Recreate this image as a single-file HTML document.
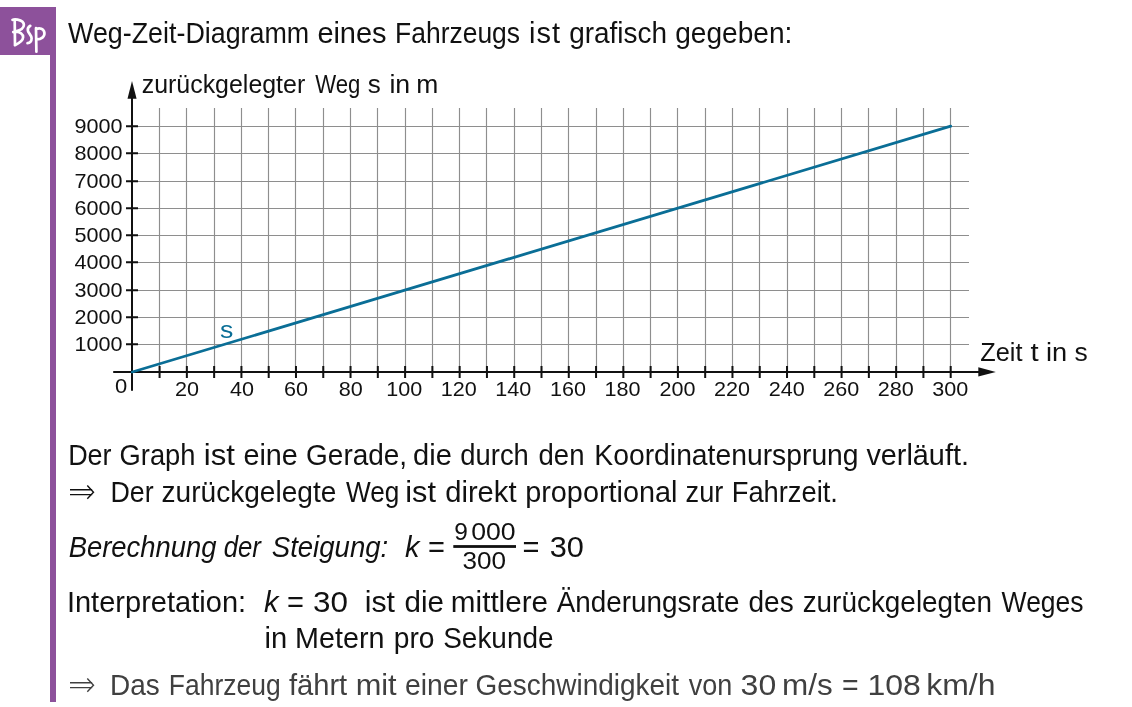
<!DOCTYPE html>
<html><head><meta charset="utf-8"><style>
html,body{margin:0;padding:0;background:#fff;}
body{width:1132px;height:707px;overflow:hidden;position:relative;}
svg{position:absolute;left:0;top:0;will-change:transform;}
text{font-family:"Liberation Sans",sans-serif;fill:#111;font-variant-ligatures:none;}
</style></head><body>
<svg width="1132" height="707" viewBox="0 0 1132 707">
<rect x="0" y="7" width="56" height="48" fill="#8d519b"/>
<rect x="50" y="55" width="6" height="647" fill="#8d519b"/>
<g fill="none" stroke="#fff" stroke-width="2.7" stroke-linecap="round" stroke-linejoin="round">
<path d="M12.5 19.9C13.6 19.3 15.6 19.2 17.5 19.6C21 20.3 24 22 23.9 25C23.8 28 20 30.3 16.2 31.4M14.7 20.1L15 45.2M13.2 32.1L16.2 31.5M16.2 31.6C19.8 32 23.2 34 23.1 37.3C23 40.6 19 43.3 14.9 45.2"/>
<path d="M30.3 25.8C28.6 26.7 27.4 28.3 27.9 30.7C28.5 33.4 31.5 35 31.6 38.3C31.7 41.2 29.8 43 27.5 43.1"/>
<path d="M36 28.2L36.4 51.7M36.2 29.1C39.5 27.6 43.8 28.5 44.4 32.8C44.9 36.8 41.2 39.4 36.7 39.4"/>
</g>
<text transform="translate(68.1 42.9) scale(0.9255 1)" style="font-size:29px;">Weg-Zeit-Diagramm</text><text x="317.4" y="42.9" style="font-size:29px;letter-spacing:-0.05px;">eines</text><text transform="translate(395.07 42.9) scale(0.9127 1)" style="font-size:29px;">Fahrzeugs</text><text x="528.9" y="42.9" style="font-size:29px;letter-spacing:1.1px;">ist</text><text transform="translate(569.14 42.9) scale(0.9636 1)" style="font-size:29px;">grafisch</text><text transform="translate(675.13 42.9) scale(0.9692 1)" style="font-size:29px;">gegeben:</text>
<path d="M159.5 108V372.0 M186.5 108V372.0 M214.5 108V372.0 M241.5 108V372.0 M268.5 108V372.0 M295.5 108V372.0 M323.5 108V372.0 M350.5 108V372.0 M377.5 108V372.0 M405.5 108V372.0 M432.5 108V372.0 M459.5 108V372.0 M486.5 108V372.0 M514.5 108V372.0 M541.5 108V372.0 M568.5 108V372.0 M596.5 108V372.0 M623.5 108V372.0 M650.5 108V372.0 M677.5 108V372.0 M705.5 108V372.0 M732.5 108V372.0 M759.5 108V372.0 M787.5 108V372.0 M814.5 108V372.0 M841.5 108V372.0 M868.5 108V372.0 M896.5 108V372.0 M923.5 108V372.0 M950.5 108V372.0 M132.3 344.5H969 M132.3 317.5H969 M132.3 290.5H969 M132.3 262.5H969 M132.3 235.5H969 M132.3 208.5H969 M132.3 181.5H969 M132.3 153.5H969 M132.3 126.5H969" stroke="#8e8e8e" stroke-width="1.15" fill="none"/>
<path d="M159.58 366V378 M186.86 366V378 M214.14 366V378 M241.42 366V378 M268.70 366V378 M295.98 366V378 M323.26 366V378 M350.54 366V378 M377.82 366V378 M405.10 366V378 M432.38 366V378 M459.66 366V378 M486.94 366V378 M514.22 366V378 M541.50 366V378 M568.78 366V378 M596.06 366V378 M623.34 366V378 M650.62 366V378 M677.90 366V378 M705.18 366V378 M732.46 366V378 M759.74 366V378 M787.02 366V378 M814.30 366V378 M841.58 366V378 M868.86 366V378 M896.14 366V378 M923.42 366V378 M950.70 366V378 M126 344.30H138 M126 317.30H138 M126 290.30H138 M126 262.30H138 M126 235.30H138 M126 208.30H138 M126 181.30H138 M126 153.30H138 M126 126.30H138" stroke="#111" stroke-width="2" fill="none"/>
<path d="M113.2 372H980M132 390.8V97" stroke="#111" stroke-width="2" fill="none"/>
<path d="M978.3 367.2L995.8 372L978.3 376.6Z" fill="#111"/>
<path d="M127.5 98.7L132 81L136.6 98.7Z" fill="#111"/>
<line x1="132.3" y1="372.0" x2="950.70" y2="126.21" stroke="#0a6e96" stroke-width="2.8" stroke-linecap="round"/>
<text transform="translate(220.09 337.6) scale(1.11 1)" style="font-size:24px;fill:#0a6e96;">s</text>
<text transform="translate(141.71 92.8) scale(0.9855 1)" style="font-size:25.3px;">zurückgelegter</text><text transform="translate(315.2 92.8) scale(0.876 1)" style="font-size:25.3px;">Weg</text><text transform="translate(367.87 92.8) scale(1.0273 1)" style="font-size:25.3px;">s</text><text transform="translate(389.39 92.8) scale(1.0562 1)" style="font-size:25.3px;">in</text><text transform="translate(416.21 92.8) scale(1.0471 1)" style="font-size:25.3px;">m</text>
<text x="980.3" y="360.5" style="font-size:25.3px;">Zeit</text><text transform="translate(1030.6 360.5) scale(1.1571 1)" style="font-size:25.3px;">t</text><text transform="translate(1045.95 360.5) scale(1.075 1)" style="font-size:25.3px;">in</text><text transform="translate(1074.55 360.5) scale(1.0455 1)" style="font-size:25.3px;">s</text>
<g style="font-size:20px"><text transform="translate(74.38 351.00) scale(1.08 1)">1000</text><text transform="translate(74.38 324.00) scale(1.08 1)">2000</text><text transform="translate(74.38 297.00) scale(1.08 1)">3000</text><text transform="translate(74.38 269.00) scale(1.08 1)">4000</text><text transform="translate(74.38 242.00) scale(1.08 1)">5000</text><text transform="translate(74.38 215.00) scale(1.08 1)">6000</text><text transform="translate(74.38 188.00) scale(1.08 1)">7000</text><text transform="translate(74.38 160.00) scale(1.08 1)">8000</text><text transform="translate(74.38 133.00) scale(1.08 1)">9000</text><text transform="translate(174.98 396.10) scale(1.08 1)">20</text><text transform="translate(230.08 396.10) scale(1.08 1)">40</text><text transform="translate(284.10 396.10) scale(1.08 1)">60</text><text transform="translate(338.66 396.10) scale(1.08 1)">80</text><text transform="translate(386.20 396.10) scale(1.08 1)">100</text><text transform="translate(440.76 396.10) scale(1.08 1)">120</text><text transform="translate(495.32 396.10) scale(1.08 1)">140</text><text transform="translate(549.88 396.10) scale(1.08 1)">160</text><text transform="translate(604.44 396.10) scale(1.08 1)">180</text><text transform="translate(659.54 396.10) scale(1.08 1)">200</text><text transform="translate(714.10 396.10) scale(1.08 1)">220</text><text transform="translate(768.66 396.10) scale(1.08 1)">240</text><text transform="translate(823.22 396.10) scale(1.08 1)">260</text><text transform="translate(877.78 396.10) scale(1.08 1)">280</text><text transform="translate(932.34 396.10) scale(1.08 1)">300</text></g>
<text transform="translate(114.9 392.8) scale(1.1 1)" style="font-size:20px;">0</text>
<text transform="translate(68.14 464.7) scale(0.9295 1)" style="font-size:29px;">Der</text><text transform="translate(119.62 464.7) scale(0.9416 1)" style="font-size:29px;">Graph</text><text transform="translate(203.75 464.7) scale(1.0741 1)" style="font-size:29px;">ist</text><text transform="translate(243.41 464.7) scale(0.9925 1)" style="font-size:29px;">eine</text><text transform="translate(306.07 464.7) scale(0.965 1)" style="font-size:29px;">Gerade,</text><text transform="translate(413.0 464.7) scale(1.0028 1)" style="font-size:29px;">die</text><text transform="translate(460.36 464.7) scale(0.9443 1)" style="font-size:29px;">durch</text><text transform="translate(538.55 464.7) scale(0.95 1)" style="font-size:29px;">den</text><text transform="translate(594.35 464.7) scale(0.976 1)" style="font-size:29px;">Koordinatenursprung</text><text transform="translate(866.4 464.7) scale(0.994 1)" style="font-size:29px;">verläuft.</text>
<path d="M70 489.75H92.2M70 494.65H92.2M87.3 485.60L93.5 492.20L87.3 498.80" fill="none" stroke="#111" stroke-width="1.4" stroke-linejoin="miter"/>
<text transform="translate(110.45 501.6) scale(0.925 1)" style="font-size:29px;">Der</text><text transform="translate(161.53 501.6) scale(0.9685 1)" style="font-size:29px;">zurückgelegte</text><text transform="translate(345.9 501.6) scale(0.9035 1)" style="font-size:29px;">Weg</text><text transform="translate(405.28 501.6) scale(1.0593 1)" style="font-size:29px;">ist</text><text transform="translate(445.19 501.6) scale(1.0057 1)" style="font-size:29px;">direkt</text><text transform="translate(525.21 501.6) scale(0.994 1)" style="font-size:29px;">proportional</text><text transform="translate(685.56 501.6) scale(0.9359 1)" style="font-size:29px;">zur</text><text transform="translate(731.72 501.6) scale(0.9417 1)" style="font-size:29px;">Fahrzeit.</text>
<text transform="translate(68.65 556.8) scale(0.9458 1)" style="font-size:29px;font-style:italic;">Berechnung</text><text transform="translate(223.71 556.8) scale(0.8881 1)" style="font-size:29px;font-style:italic;">der</text><text transform="translate(271.75 556.8) scale(0.9508 1)" style="font-size:29px;font-style:italic;">Steigung:</text>
<text x="405.0" y="556.8" style="font-size:29px;font-style:italic;">k</text>
<text x="427.9" y="556.8" style="font-size:29px;">=</text>
<text transform="translate(454.24 540.4) scale(1.0636 1)" style="font-size:23px;">9</text><text transform="translate(471.14 540.4) scale(1.1583 1)" style="font-size:23px;">000</text>
<rect x="453.3" y="545.1" width="62.7" height="2.8" fill="#111"/>
<text transform="translate(462.46 569.1) scale(1.1361 1)" style="font-size:23px;">300</text>
<text x="522.6" y="556.8" style="font-size:29px;">=</text>
<text transform="translate(549.74 556.8) scale(1.06 1)" style="font-size:29px;">30</text>
<text x="66.9" y="611.7" style="font-size:29px;letter-spacing:0.021px;">Interpretation:</text>
<text x="264.1" y="611.7" style="font-size:29px;font-style:italic;">k</text>
<text x="286.9" y="611.7" style="font-size:29px;">=</text>
<text transform="translate(313.12 611.7) scale(1.0833 1)" style="font-size:29px;">30</text>
<text transform="translate(364.71 611.7) scale(1.0444 1)" style="font-size:29px;">ist</text><text transform="translate(404.58 611.7) scale(1.0194 1)" style="font-size:29px;">die</text><text transform="translate(450.85 611.7) scale(1.0228 1)" style="font-size:29px;">mittlere</text><text transform="translate(556.8 611.7) scale(0.9603 1)" style="font-size:29px;">Änderungsrate</text><text transform="translate(748.53 611.7) scale(0.9667 1)" style="font-size:29px;">des</text><text transform="translate(802.64 611.7) scale(0.9629 1)" style="font-size:29px;">zurückgelegten</text><text transform="translate(1001.6 611.7) scale(0.9146 1)" style="font-size:29px;">Weges</text>
<text transform="translate(264.59 648.2) scale(1.0053 1)" style="font-size:29px;">in</text><text transform="translate(295.12 648.2) scale(0.9897 1)" style="font-size:29px;">Metern</text><text transform="translate(393.76 648.2) scale(0.9718 1)" style="font-size:29px;">pro</text><text transform="translate(443.24 648.2) scale(0.9634 1)" style="font-size:29px;">Sekunde</text>
<path d="M70 682.75H92.2M70 687.65H92.2M87.3 678.60L93.5 685.20L87.3 691.80" fill="none" stroke="#404040" stroke-width="1.4" stroke-linejoin="miter"/>
<text transform="translate(110.07 694.6) scale(0.9633 1)" style="font-size:29px;fill:#404040;">Das</text><text transform="translate(168.87 694.6) scale(0.9126 1)" style="font-size:29px;fill:#404040;">Fahrzeug</text><text transform="translate(288.9 694.6) scale(1.0052 1)" style="font-size:29px;fill:#404040;">fährt</text><text transform="translate(355.68 694.6) scale(1.0611 1)" style="font-size:29px;fill:#404040;">mit</text><text transform="translate(404.92 694.6) scale(0.9762 1)" style="font-size:29px;fill:#404040;">einer</text><text transform="translate(475.47 694.6) scale(0.9646 1)" style="font-size:29px;fill:#404040;">Geschwindigkeit</text><text transform="translate(688.7 694.6) scale(0.9311 1)" style="font-size:29px;fill:#404040;">von</text><text transform="translate(740.6 694.6) scale(1.1033 1)" style="font-size:29px;fill:#404040;">30</text><text transform="translate(782.03 694.6) scale(1.0864 1)" style="font-size:29px;fill:#404040;">m/s</text><text transform="translate(842.12 694.6) scale(0.98 1)" style="font-size:29px;fill:#404040;">=</text><text transform="translate(867.39 694.6) scale(1.1044 1)" style="font-size:29px;fill:#404040;">108</text><text transform="translate(926.3 694.6) scale(1.1017 1)" style="font-size:29px;fill:#404040;">km/h</text>
</svg>
</body></html>
